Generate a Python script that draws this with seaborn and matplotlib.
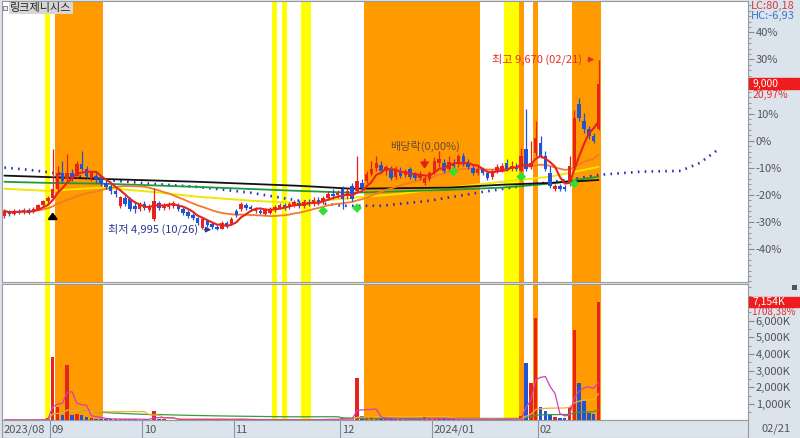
import numpy as np
import pandas as pd
import matplotlib
matplotlib.use("Agg")
import matplotlib.pyplot as plt
import matplotlib.transforms as mtransforms
from matplotlib.patches import Rectangle
from matplotlib.ticker import FixedLocator
import seaborn as sns

sns.set_theme(style="white")
FONT = ['Liberation Sans Narrow', 'Noto Sans CJK KR', 'DejaVu Sans']
plt.rcParams['font.family'] = FONT

# ---------------- data ----------------
title = "링크제니시스"
holidays = ["2023-09-28", "2023-09-29", "2023-10-02", "2023-10-03", "2023-10-09",
            "2023-12-25", "2023-12-29", "2024-01-01", "2024-02-09", "2024-02-12"]
dates = pd.bdate_range("2023-08-18", "2024-02-21")
dates = dates[~dates.isin(pd.to_datetime(holidays))]

open_ = [5370, 5510, 5430, 5510, 5480, 5540, 5480, 5570, 5680, 5790,
         5870, 6120, 6560, 6390, 6560, 6480, 6810, 6670, 6420, 6480,
         6450, 6280, 6200, 6060, 5650, 5870, 5840, 5650, 5570, 5700,
         5540, 5290, 5730, 5590, 5620, 5650, 5680, 5570, 5480, 5400,
         5320, 5040, 5230, 5150, 5070, 5010, 5180, 5150, 5510, 5570,
         5680, 5620, 5510, 5510, 5430, 5460, 5540, 5590, 5680, 5620,
         5680, 5730, 5650, 5760, 5700, 5810, 5760, 5870, 5980, 5950,
         6120, 5920, 6200, 6060, 6280, 6340, 6530, 6700, 6780, 6610,
         6670, 6450, 6610, 6500, 6670, 6500, 6420, 6280, 6390, 6560,
         6830, 6830, 6670, 6830, 6810, 7030, 6830, 6700, 6560, 6670,
         6560, 6450, 6610, 6640, 6830, 6670, 6720, 6610, 7220, 6720,
         7110, 7380, 7030, 6560, 6120, 6200, 6170, 6260, 6700, 8460,
         7990, 7770, 7580, 7770]
high = [5570, 5540, 5570, 5570, 5590, 5590, 5620, 5700, 5810, 5920,
        7220, 6750, 6890, 7080, 6670, 6890, 7160, 6750, 6610, 6560,
        6500, 6390, 6260, 6120, 5920, 5920, 5900, 5790, 5760, 5790,
        5700, 6150, 5790, 5730, 5760, 5790, 5730, 5620, 5540, 5460,
        5350, 5350, 5290, 5210, 5120, 5230, 5230, 5350, 5570, 5760,
        5730, 5680, 5620, 5570, 5590, 5620, 5680, 5730, 5730, 5760,
        5810, 5810, 5810, 5840, 5900, 5900, 5920, 6060, 6120, 6090,
        6200, 6150, 6280, 7030, 6390, 6610, 6890, 7030, 6890, 6780,
        6750, 6750, 6720, 6670, 6720, 6590, 6610, 6480, 6610, 7000,
        7160, 6940, 7030, 6940, 7080, 7110, 6940, 6780, 6750, 6720,
        6610, 6670, 6810, 6830, 6940, 6890, 6830, 7250, 8320, 7440,
        7990, 7580, 7160, 6750, 6260, 6260, 6230, 7030, 8270, 8600,
        8210, 7850, 7660, 9670]
low = [5320, 5370, 5400, 5430, 5430, 5430, 5460, 5540, 5620, 5700,
       5810, 6060, 6280, 6340, 6340, 6420, 6610, 6420, 6340, 6280,
       6200, 6120, 5980, 5900, 5590, 5650, 5510, 5460, 5510, 5540,
       5480, 5230, 5540, 5540, 5570, 5590, 5510, 5400, 5320, 5260,
       5120, 5010, 5070, 5010, 4995, 5000, 5040, 5120, 5350, 5510,
       5540, 5510, 5460, 5430, 5400, 5430, 5480, 5570, 5540, 5570,
       5620, 5590, 5590, 5650, 5650, 5680, 5700, 5810, 5840, 5870,
       5570, 5840, 5790, 6010, 6060, 6280, 6480, 6610, 6560, 6500,
       6370, 6390, 6420, 6450, 6390, 6370, 6370, 6230, 6340, 6530,
       6720, 6560, 6610, 6670, 6720, 6750, 6670, 6500, 6500, 6500,
       6370, 6390, 6560, 6590, 6610, 6610, 6610, 6560, 6610, 6670,
       7030, 6970, 6610, 6150, 6060, 6060, 6060, 6200, 6670, 7990,
       7660, 7490, 7380, 7720]
close = [5510, 5430, 5510, 5480, 5540, 5460, 5570, 5680, 5790, 5870,
         6120, 6560, 6340, 6560, 6420, 6810, 6670, 6480, 6560, 6390,
         6260, 6170, 6060, 5980, 5900, 5700, 5570, 5570, 5700, 5590,
         5650, 5790, 5590, 5680, 5700, 5730, 5570, 5460, 5370, 5320,
         5180, 5290, 5120, 5070, 5010, 5180, 5100, 5290, 5400, 5700,
         5590, 5570, 5570, 5460, 5540, 5570, 5620, 5680, 5590, 5700,
         5760, 5650, 5760, 5700, 5810, 5730, 5870, 5980, 5920, 6010,
         5840, 6060, 5840, 6340, 6150, 6530, 6670, 6830, 6610, 6720,
         6420, 6670, 6480, 6610, 6450, 6420, 6530, 6420, 6560, 6890,
         6940, 6610, 6860, 6750, 7030, 6810, 6720, 6560, 6670, 6560,
         6420, 6610, 6720, 6750, 6670, 6750, 6670, 7030, 6670, 6830,
         7520, 7030, 6670, 6200, 6200, 6120, 6120, 6750, 8050, 8050,
         7770, 7580, 7440, 9000]
volume = [45000, 40000, 50000, 35000, 40000, 45000, 50000, 70000, 90000, 140000,
          3830000, 840000, 340000, 3340000, 350000, 400000, 350000, 200000, 150000, 130000,
          110000, 100000, 90000, 80000, 120000, 90000, 100000, 80000, 70000, 80000,
          70000, 580000, 120000, 80000, 60000, 60000, 60000, 70000, 80000, 70000,
          80000, 90000, 70000, 60000, 90000, 80000, 60000, 70000, 90000, 80000,
          70000, 60000, 50000, 60000, 50000, 60000, 70000, 60000, 50000, 60000,
          60000, 50000, 60000, 60000, 70000, 60000, 90000, 100000, 90000, 80000,
          150000, 120000, 100000, 2560000, 300000, 250000, 200000, 180000, 150000, 120000,
          110000, 100000, 90000, 100000, 90000, 80000, 90000, 200000, 100000, 150000,
          140000, 100000, 110000, 90000, 120000, 100000, 90000, 80000, 70000, 80000,
          70000, 60000, 80000, 90000, 100000, 80000, 90000, 300000, 3440000, 2260000,
          6170000, 840000, 560000, 380000, 200000, 150000, 150000, 840000, 5430000, 2240000,
          1200000, 460000, 395636, 7154600]

# long moving averages / leading span at sample days
black_idx = [0, 20, 40, 61, 72, 92, 103, 113, 123]
black_val = [6480, 6390, 6310, 6200, 6120, 6150, 6230, 6280, 6360]
green_idx = [0, 9, 20, 40, 61, 72, 92, 103, 113, 123]
green_val = [6310, 6280, 6260, 6170, 6060, 6010, 6090, 6150, 6260, 6450]
yellow_idx = [0, 9, 20, 30, 40, 51, 61, 72, 82, 92, 103, 113, 123]
yellow_val = [6120, 6060, 6150, 6040, 5900, 5790, 5730, 5870, 5980, 6150, 6310, 6450, 6720]
span_idx = [0, 5, 10, 16, 20, 30, 40, 51, 61, 70, 78, 88, 98, 109, 118, 123, 132, 140, 144, 148]
span_val = [6700, 6640, 6560, 6450, 6370, 6260, 6170, 6010, 5790, 5650, 5650, 5790, 6010,
            6230, 6390, 6500, 6590, 6610, 6830, 7220]

yellow_days = [9, 56, 58, 62, 63, 104, 105, 106]
orange_days = list(range(11, 21)) + list(range(75, 99)) + [107, 110] + list(range(118, 124))
signal_days = [66, 73, 93, 107, 118]
signal_price = [5510, 5590, 6590, 6450, 6260]
buy_day = 10
exdiv_date = "2023-12-27"

# ---------------- derived ----------------
n = len(close)
x = np.arange(n)
o = np.array(open_, float); h = np.array(high, float)
l = np.array(low, float); c = np.array(close, float)
v = np.array(volume, float)
base = c[-2]
RED, BLUE = '#e8231c', '#2153d6'
up = c >= o
cols = np.where(up, RED, BLUE)
ma5 = pd.Series(c).rolling(5, min_periods=1).mean()
ma20 = pd.Series(c).rolling(20, min_periods=1).mean()
vma5 = pd.Series(v).rolling(5, min_periods=1).mean()
vma20 = pd.Series(v).rolling(20, min_periods=1).mean()
vma60 = pd.Series(v).rolling(60, min_periods=1).mean()

W, H = 800, 438
def frame(lft, top, rgt, bot):
    return [lft / W, 1 - bot / H, (rgt - lft) / W, (bot - top) / H]

fig = plt.figure(figsize=(W / 100, H / 100), dpi=100)
BG = '#dbe3ed'
fig.patch.set_facecolor(BG)
ax = fig.add_axes(frame(2, 1, 748, 282))
axv = fig.add_axes(frame(2, 284, 748, 420))
axd = fig.add_axes(frame(2, 420, 748, 438))
XL = (-0.5, 153.95)
for a in (ax, axv, axd):
    a.set_xlim(*XL)
    for s in a.spines.values():
        s.set_color('#9a9a9a'); s.set_linewidth(0.8)
ax.set_facecolor('white'); axv.set_facecolor('white'); axd.set_facecolor(BG)

def runs(days):
    days = sorted(days); out = []; s = p = days[0]
    for d in days[1:]:
        if d == p + 1:
            p = d
        else:
            out.append((s, p)); s = p = d
    out.append((s, p))
    return out

for a in (ax, axv):
    for s, e in runs(yellow_days):
        a.axvspan(s - 0.5, e + 0.5, color='#ffff00', lw=0, zorder=0)
    for s, e in runs(orange_days):
        a.axvspan(s - 0.5, e + 0.5, color='#ff9a00', lw=0, zorder=0)

# price panel
pct_lo, pct_hi = -52.2, 51.6
ax.set_ylim(base * (1 + pct_lo / 100), base * (1 + pct_hi / 100))

sns.lineplot(x=span_idx, y=span_val, ax=ax, color='#2b2bbf', lw=1.9,
             linestyle=(0, (0.6, 2.0)), zorder=2)
sns.lineplot(x=yellow_idx, y=yellow_val, ax=ax, color='#f2e600', lw=1.4, zorder=2)
sns.lineplot(x=green_idx, y=green_val, ax=ax, color='#1f9a3a', lw=1.3, zorder=2)
sns.lineplot(x=black_idx, y=black_val, ax=ax, color='#111111', lw=1.3, zorder=2)
sns.lineplot(x=x, y=ma20, ax=ax, color='#f47a2a', lw=1.3, zorder=2)

ax.vlines(x, l, h, colors=cols, lw=0.9, zorder=3)
body = np.maximum(np.abs(c - o), 15)
ax.bar(x, body, bottom=np.minimum(o, c), width=0.72, color=cols, lw=0, zorder=3)
sns.lineplot(x=x, y=ma5, ax=ax, color='#e8231c', lw=1.5, zorder=4)

sns.scatterplot(x=signal_days, y=signal_price, ax=ax, marker='D', s=24,
                color='#2fe02f', edgecolor='none', zorder=5, legend=False)
ax.annotate('', xy=(buy_day, l[buy_day] - 260), xytext=(buy_day, l[buy_day] - 520),
            arrowprops=dict(arrowstyle='-|>,head_width=0.22,head_length=0.3',
                            color='black', lw=1.6), zorder=5)

lo_i = int(np.argmin(l)); hi_i = int(np.argmax(h))
ax.annotate(f"최저 {int(l[lo_i]):,} ({dates[lo_i]:%m/%d})", xy=(lo_i - 0.6, l[lo_i]),
            xytext=(lo_i - 3.9, l[lo_i]), ha='right', va='center', fontsize=8,
            color='#2e3a8c', arrowprops=dict(arrowstyle='-|>', color='#2e3a8c', lw=0.9),
            zorder=6)
ax.annotate(f"최고 {int(h[hi_i]):,} ({dates[hi_i]:%m/%d})", xy=(hi_i - 0.3, h[hi_i]),
            xytext=(hi_i - 3.4, h[hi_i]), ha='right', va='center', fontsize=8,
            color='#e0302a', arrowprops=dict(arrowstyle='-|>', color='#e0302a', lw=0.9),
            zorder=6)
ex_i = int(np.where(dates == pd.Timestamp(exdiv_date))[0][0])
ax.annotate('', xy=(ex_i, h[ex_i] + 110), xytext=(ex_i, h[ex_i] + 520),
            arrowprops=dict(arrowstyle='-|>,head_width=0.2,head_length=0.3',
                            color='#e02020', lw=1.3), zorder=6)
ax.text(ex_i, h[ex_i] + 790, "배당락(0,00%)", ha='center', va='center', fontsize=8,
        color='#6b4c3a', zorder=6)

# right percent axis
ppx = base * 0.01 / 2.709          # price per pixel
ax.yaxis.tick_right()
pcts = np.arange(-40, 41, 10)
ticks = base * (1 + pcts / 100)
ax.yaxis.set_major_locator(FixedLocator(ticks))
# a label hidden behind the last-price box is not drawn (as in the source chart)
ax.set_yticklabels(["" if abs(t - c[-1]) < 12 * ppx else f"{p}%" for p, t in zip(pcts, ticks)])
ax.yaxis.set_minor_locator(FixedLocator(base * (1 + np.arange(-52, 52, 2) / 100)))
ax.tick_params(axis='y', which='major', right=True, length=4, width=0.8, color='#8a8a8a',
               labelcolor='#555555', labelsize=8, pad=1.5)
ax.tick_params(axis='y', which='minor', right=True, length=2, width=0.6, color='#8a8a8a')
ax.tick_params(axis='x', bottom=False, labelbottom=False)
ax.set_xlabel(''); ax.set_ylabel('')

trans = mtransforms.blended_transform_factory(ax.transAxes, ax.transData)
ax.add_patch(Rectangle((1.002, c[-1] - 5.5 * ppx), 0.066, 11 * ppx, transform=trans,
                       color='#ee1c1c', clip_on=False, zorder=7))
ax.text(1.006, c[-1], f"{int(c[-1]):,}", transform=trans, color='white', fontsize=7.5,
        va='center', ha='left', zorder=8)
chg = (c[-1] / c[-2] - 1) * 100
ax.text(1.006, c[-1] - 11 * ppx, f"{chg:.2f}%".replace('.', ','), transform=trans,
        color='#e03030', fontsize=7.5, va='center', ha='left', zorder=8)
lc = (c[-1] / l.min() - 1) * 100
hc = (c[-1] / h.max() - 1) * 100
fig.text(751 / W, 1 - 6 / H, f"LC:{lc:.2f}".replace('.', ','), color='#d83a3a',
         fontsize=8, va='center', ha='left')
fig.text(751 / W, 1 - 16 / H, f"HC:{hc:.2f}".replace('.', ','), color='#3a78c8',
         fontsize=8, va='center', ha='left')

# title
fig.patches.append(Rectangle((3 / W, 1 - 10 / H), 4 / W, 4 / H, transform=fig.transFigure,
                             fc='#eeeeee', ec='#777777', lw=0.6))
fig.text(10 / W, 1 - 8 / H, title, fontsize=8, va='center', ha='left', color='#222222',
         bbox=dict(boxstyle='square,pad=0.12', fc='#d6d6d6', ec='none'))

# volume panel
vtop = (420.7 - 284) / 16.66 * 1e6
vbot = (420.7 - 420) / 16.66 * 1e6
axv.set_ylim(vbot, vtop)
axv.bar(x, v, width=0.72, color=cols, lw=0, zorder=3)
sns.lineplot(x=x, y=vma60, ax=axv, color='#3c9a3c', lw=0.9, zorder=4)
sns.lineplot(x=x, y=vma20, ax=axv, color='#f0b030', lw=0.9, zorder=4)
sns.lineplot(x=x, y=vma5, ax=axv, color='#d040c0', lw=0.9, zorder=4)
axv.yaxis.tick_right()
vt = np.arange(1, 7) * 1e6
axv.yaxis.set_major_locator(FixedLocator(vt))
axv.set_yticklabels([f"{int(t / 1000):,}K" for t in vt])
axv.yaxis.set_minor_locator(FixedLocator(np.arange(0.5, 8.1, 0.5) * 1e6))
axv.tick_params(axis='y', which='major', right=True, length=4, width=0.8, color='#8a8a8a',
                labelcolor='#555555', labelsize=8, pad=1.5)
axv.tick_params(axis='y', which='minor', right=True, length=2, width=0.6, color='#8a8a8a')
axv.tick_params(axis='x', bottom=False, labelbottom=False)
axv.set_xlabel(''); axv.set_ylabel('')
vtrans = mtransforms.blended_transform_factory(axv.transAxes, axv.transData)
vpx = 1e6 / 16.66
axv.add_patch(Rectangle((1.002, v[-1] - 5 * vpx), 0.066, 10 * vpx, transform=vtrans,
                        color='#ee1c1c', clip_on=False, zorder=7))
axv.text(1.006, v[-1], f"{int(v[-1] // 1000):,}K", transform=vtrans, color='white',
         fontsize=7.5, va='center', ha='left', zorder=8)
vchg = (v[-1] / v[-2] - 1) * 100
axv.text(1.004, v[-1] - 10 * vpx, f"{vchg:.2f}%".replace('.', ','), transform=vtrans,
         color='#e03030', fontsize=7, va='center', ha='left', zorder=8)
fig.patches.append(Rectangle((792 / W, 1 - 290 / H), 5 / W, 5 / H, transform=fig.transFigure,
                             fc='#555555', ec='none'))

# date strip
axd.set_ylim(0, 1)
axd.set_yticks([]); axd.set_xticks([])
month_start = [0] + [i for i in range(1, n) if dates[i].month != dates[i - 1].month]
for k, i in enumerate(month_start):
    if k == 0 or dates[i].year != dates[month_start[k - 1]].year:
        lab = f"{dates[i]:%Y/%m}"
    else:
        lab = f"{dates[i]:%m}"
    axd.axvline(i - 0.5, color='#8a96a6', lw=0.8)
    axd.text(i - 0.5 + 0.35, 0.45, lab, fontsize=8, color='#555555', va='center', ha='left')
fig.text(762 / W, 1 - 429 / H, f"{dates[-1]:%m/%d}", fontsize=8, color='#555555',
         va='center', ha='left')

fig.savefig("out.png", dpi=100, facecolor=fig.get_facecolor())
